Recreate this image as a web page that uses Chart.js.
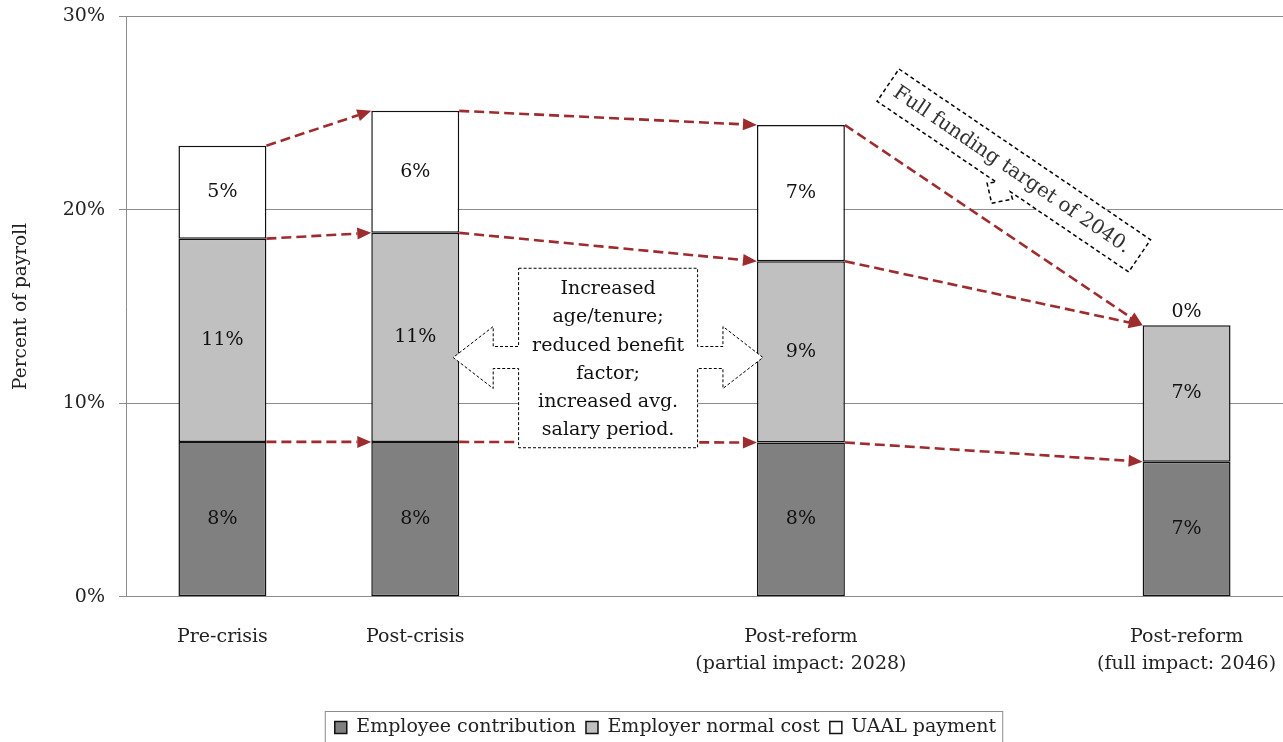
<!DOCTYPE html>
<html>
<head>
<meta charset="utf-8">
<script src="https://cdn.jsdelivr.net/npm/chart.js@4.4.1/dist/chart.umd.min.js"></script>
<style>
  html, body { margin: 0; padding: 0; background: #fff; }
  #wrap { width: 1283px; height: 742px; }
</style>
</head>
<body>
<div id="wrap"><canvas id="chart" width="1283" height="742"></canvas></div>
<script>
// categories (empty slots keep the uneven spacing between bars)
var categories = [
  'Pre-crisis',
  'Post-crisis',
  '',
  ['Post-reform', '(partial impact: 2028)'],
  '',
  ['Post-reform', '(full impact: 2046)']
];

// percent of payroll
var employeeContribution = [8.0, 8.0, null, 7.97, null, 6.98];
var employerNormalCost   = [10.5, 10.8, null, 9.36, null, 7.04];
var uaalPayment          = [4.8, 6.3, null, 7.04, null, 0];

var yTicks = [0, 10, 20, 30];

var boxText = ['Increased', 'age/tenure;', 'reduced benefit', 'factor;', 'increased avg.', 'salary period.'];
var calloutText = 'Full funding target of 2040.';

var FONT = "'DejaVu Serif', 'Liberation Serif', serif";
var ARROW = '#9e2b2d';

// value labels in the middle of each segment (0 goes above the bar)
var valueLabels = {
  id: 'valueLabels',
  afterDatasetsDraw: function(chart) {
    var ctx = chart.ctx;
    ctx.save();
    ctx.font = '19px ' + FONT;
    ctx.fillStyle = '#111';
    ctx.textAlign = 'center';
    ctx.textBaseline = 'middle';
    chart.data.datasets.forEach(function(ds, di) {
      var meta = chart.getDatasetMeta(di);
      ds.data.forEach(function(v, i) {
        if (v === null) return;
        var bar = meta.data[i];
        var y = v === 0 ? bar.y - 13 : (bar.y + bar.base) / 2;
        ctx.fillText(Math.round(v) + '%', bar.x, y);
      });
    });
    ctx.restore();
  }
};

function arrowLine(ctx, x1, y1, x2, y2) {
  var ang = Math.atan2(y2 - y1, x2 - x1);
  var head = 14;
  ctx.beginPath();
  ctx.setLineDash([10, 5]);
  ctx.moveTo(x1, y1);
  ctx.lineTo(x2 - Math.cos(ang) * head, y2 - Math.sin(ang) * head);
  ctx.stroke();
  ctx.setLineDash([]);
  ctx.beginPath();
  ctx.moveTo(x2, y2);
  ctx.lineTo(x2 - Math.cos(ang) * head + Math.sin(ang) * 6, y2 - Math.sin(ang) * head - Math.cos(ang) * 6);
  ctx.lineTo(x2 - Math.cos(ang) * head - Math.sin(ang) * 6, y2 - Math.sin(ang) * head + Math.cos(ang) * 6);
  ctx.closePath();
  ctx.fill();
}

// dashed red arrows linking the top of each segment to the next bar
var linkArrows = {
  id: 'linkArrows',
  afterDatasetsDraw: function(chart) {
    var ctx = chart.ctx;
    var idx = [];
    employeeContribution.forEach(function(v, i) { if (v !== null) idx.push(i); });
    ctx.save();
    ctx.strokeStyle = ARROW;
    ctx.fillStyle = ARROW;
    ctx.lineWidth = 2.6;
    for (var d = 0; d < chart.data.datasets.length; d++) {
      var meta = chart.getDatasetMeta(d);
      for (var k = 0; k < idx.length - 1; k++) {
        var a = meta.data[idx[k]], b = meta.data[idx[k + 1]];
        arrowLine(ctx, a.x + a.width / 2, a.y, b.x - b.width / 2, b.y);
      }
    }
    ctx.restore();
  }
};

// the two annotation shapes
var notes = {
  id: 'notes',
  afterDatasetsDraw: function(chart) {
    var ctx = chart.ctx;
    var ys = chart.scales.y;
    var m0 = chart.getDatasetMeta(0);
    var b1 = m0.data[1], b3 = m0.data[3];
    var tipL = b1.x + b1.width / 2 - 6;
    var tipR = b3.x - b3.width / 2 + 6;
    var cx = (tipL + tipR) / 2;
    var cy = ys.getPixelForValue(12.36);
    var top = ys.getPixelForValue(16.97), bot = ys.getPixelForValue(7.7);
    var bw = 89.5, hl = 40, hh = 31, sh = 11;

    ctx.save();
    ctx.beginPath();
    ctx.moveTo(cx - bw, top);
    ctx.lineTo(cx + bw, top);
    ctx.lineTo(cx + bw, cy - sh);
    ctx.lineTo(tipR - hl, cy - sh);
    ctx.lineTo(tipR - hl, cy - hh);
    ctx.lineTo(tipR, cy);
    ctx.lineTo(tipR - hl, cy + hh);
    ctx.lineTo(tipR - hl, cy + sh);
    ctx.lineTo(cx + bw, cy + sh);
    ctx.lineTo(cx + bw, bot);
    ctx.lineTo(cx - bw, bot);
    ctx.lineTo(cx - bw, cy + sh);
    ctx.lineTo(tipL + hl, cy + sh);
    ctx.lineTo(tipL + hl, cy + hh);
    ctx.lineTo(tipL, cy);
    ctx.lineTo(tipL + hl, cy - hh);
    ctx.lineTo(tipL + hl, cy - sh);
    ctx.lineTo(cx - bw, cy - sh);
    ctx.closePath();
    ctx.fillStyle = '#fff';
    ctx.fill();
    ctx.setLineDash([3, 2]);
    ctx.lineWidth = 1;
    ctx.strokeStyle = '#000';
    ctx.stroke();
    ctx.setLineDash([]);
    ctx.font = '19px ' + FONT;
    ctx.fillStyle = '#111';
    ctx.textAlign = 'center';
    ctx.textBaseline = 'middle';
    var ty = top + 21;
    boxText.forEach(function(t, i) { ctx.fillText(t, cx, ty + i * 28.2); });
    ctx.restore();

    // rotated callout
    var ca = chart.chartArea;
    var ox = ca.left + 773, oy = ca.top + 53;
    var ang = Math.atan2(171, 252);
    var w = 304, h = 39;
    ctx.save();
    ctx.translate(ox, oy);
    ctx.rotate(ang);
    ctx.beginPath();
    ctx.moveTo(0, 0);
    ctx.lineTo(w, 0);
    ctx.lineTo(w, h);
    ctx.lineTo(161, h);
    ctx.lineTo(167, h + 5);
    ctx.lineTo(152, h + 20);
    ctx.lineTo(137, h + 6);
    ctx.lineTo(144, h);
    ctx.lineTo(0, h);
    ctx.closePath();
    ctx.fillStyle = '#fff';
    ctx.fill();
    ctx.setLineDash([4, 3]);
    ctx.lineWidth = 1.5;
    ctx.strokeStyle = '#000';
    ctx.stroke();
    ctx.setLineDash([]);
    ctx.font = '20px ' + FONT;
    ctx.fillStyle = '#333';
    ctx.textAlign = 'center';
    ctx.textBaseline = 'middle';
    ctx.fillText(calloutText, w / 2 - 2, h / 2 + 1);
    ctx.restore();
  }
};

// frame round the legend, nudged like the original
var legendFrame = {
  id: 'legendFrame',
  afterLayout: function(chart) {
    chart.legend.left += 48;
    chart.legend.top += 5;
  },
  afterDraw: function(chart) {
    var lg = chart.legend;
    var ctx = chart.ctx;
    var w = 0;
    lg.legendHitBoxes.forEach(function(hb) { w = Math.max(w, hb.left + hb.width); });
    var x0 = lg.legendHitBoxes[0].left - 10;
    ctx.save();
    ctx.strokeStyle = '#8c8c8c';
    ctx.lineWidth = 1;
    ctx.strokeRect(x0 + 0.5, lg.top + 3.5, w - x0 + 6, 40);
    ctx.restore();
  }
};

var chart = new Chart(document.getElementById('chart'), {
  type: 'bar',
  data: {
    labels: categories,
    datasets: [
      { label: 'Employee contribution', data: employeeContribution, backgroundColor: '#808080' },
      { label: 'Employer normal cost', data: employerNormalCost, backgroundColor: '#c0c0c0' },
      { label: 'UAAL payment', data: uaalPayment, backgroundColor: '#ffffff' }
    ]
  },
  options: {
    responsive: false,
    animation: false,
    events: [],
    layout: { padding: { top: 16, right: 0, bottom: 0, left: 0 } },
    datasets: {
      bar: {
        borderColor: '#111',
        borderWidth: 1.5,
        borderSkipped: false,
        categoryPercentage: 1,
        barPercentage: 0.456
      }
    },
    scales: {
      x: {
        stacked: true,
        grid: { display: false, drawTicks: false },
        border: { display: true, color: '#8c8c8c', width: 1 },
        ticks: {
          padding: 26,
          maxRotation: 0,
          autoSkip: false,
          color: '#222',
          font: { family: FONT, size: 19, lineHeight: 1.45 }
        },
        afterFit: function(s) {
          s.height = 106.2;
          s.paddingLeft = 0;
          s.paddingRight = 0;
        }
      },
      y: {
        stacked: true,
        min: 0,
        max: 30,
        afterBuildTicks: function(s) { s.ticks = yTicks.map(function(v) { return { value: v }; }); },
        grid: { color: '#8c8c8c', lineWidth: 1, tickLength: 7, drawTicks: true },
        border: { display: true, color: '#8c8c8c', width: 1 },
        ticks: {
          padding: 14,
          color: '#222',
          font: { family: FONT, size: 19 },
          callback: function(v) { return v + '%'; }
        },
        title: {
          display: true,
          text: 'Percent of payroll',
          color: '#222',
          padding: { top: 10, bottom: 0 },
          font: { family: FONT, size: 18.5 }
        },
        afterFit: function(s) {
          s.width = 126;
          s.paddingTop = 0;
          s.paddingBottom = 0;
        }
      }
    },
    plugins: {
      legend: {
        position: 'bottom',
        labels: {
          boxWidth: 12,
          boxHeight: 12,
          padding: 10,
          color: '#222',
          font: { family: FONT, size: 19 }
        }
      },
      tooltip: { enabled: false }
    }
  },
  plugins: [linkArrows, notes, valueLabels, legendFrame]
});
</script>
</body>
</html>
